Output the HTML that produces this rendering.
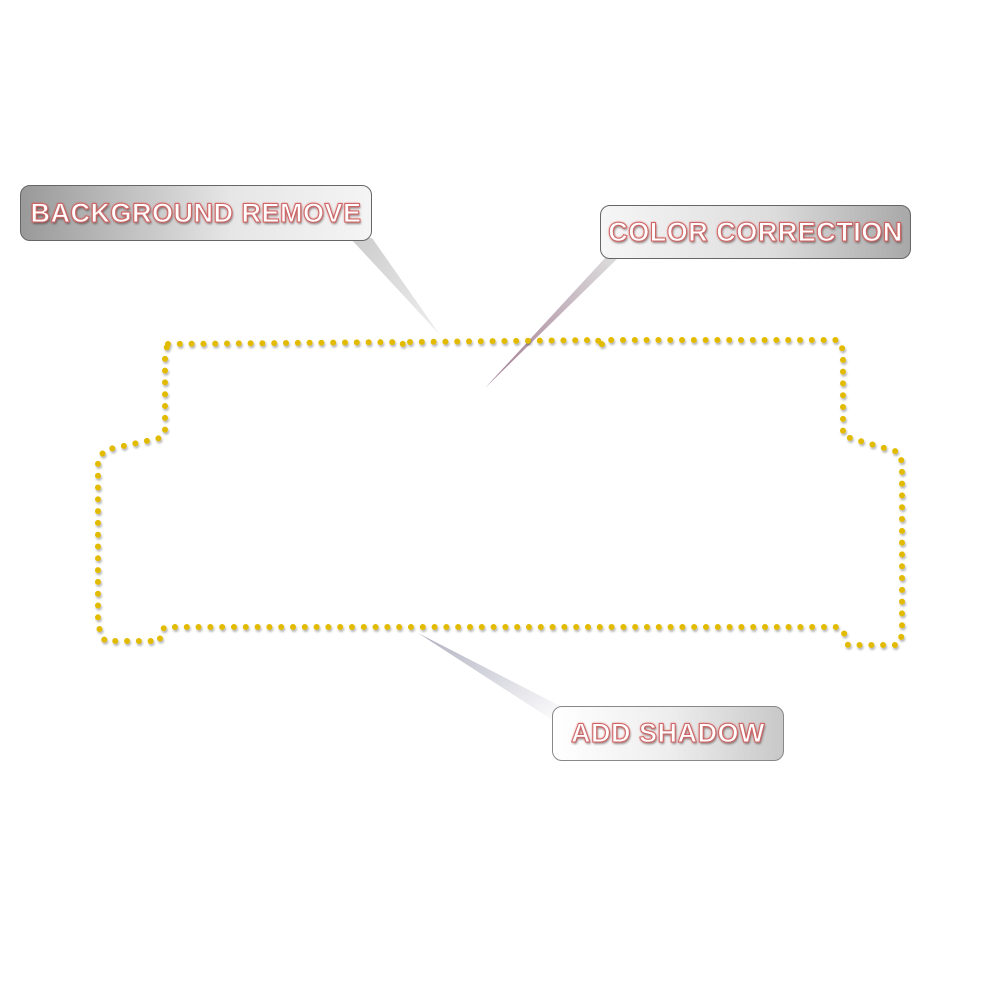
<!DOCTYPE html>
<html><head><meta charset="utf-8"><style>
html,body{margin:0;padding:0;background:#fff;}
body{width:1000px;height:1000px;position:relative;overflow:hidden;}
.box{position:absolute;border:1px solid #666;border-radius:10px;box-sizing:border-box;display:flex;align-items:center;justify-content:center;}
.t{font-family:"Liberation Sans",sans-serif;font-weight:bold;font-size:27px;color:#fff;letter-spacing:0.5px;
-webkit-text-stroke:1px #c66;text-shadow:0 0 2px #e33,1px 2px 2px rgba(0,0,0,.4);white-space:nowrap;}
</style></head><body>
<svg width="1000" height="1000" style="position:absolute;left:0;top:0">
<defs>
<linearGradient id="p1" x1="0" y1="0" x2="1" y2="1"><stop offset="0" stop-color="#ccc"/><stop offset="1" stop-color="#eee"/></linearGradient>
<linearGradient id="p2" x1="1" y1="0" x2="0" y2="1"><stop offset="0" stop-color="#ddd"/><stop offset="1" stop-color="#a07890"/></linearGradient>
<linearGradient id="p3" x1="0" y1="0" x2="1" y2="1"><stop offset="0" stop-color="#b0b0c0"/><stop offset="1" stop-color="#fff"/></linearGradient>
<filter id="sh"><feDropShadow dx="1" dy="2" stdDeviation="1" flood-color="#000" flood-opacity="0.3"/></filter>
</defs>
<polygon points="350,238 372,238 440,335" fill="url(#p1)"/>
<polygon points="605,258 618,258 485,388" fill="url(#p2)"/>
<polygon points="418,633 560,706 560,725" fill="url(#p3)"/>
<path d="M168,344 L402,342 L404,347 L408,342 L598,340 L600,348 L604,340 L838,340 L843,350 L843,435 L850,438 L898,452 L902,462 L902,635 L898,645 L848,645 L843,630 L838,627 L165,627 L160,632 L160,641 L105,641 L100,632 L98,620 L98,460 L105,450 L160,438 L165,432 L165,352 Z"
 fill="none" stroke="#e2bb00" stroke-width="6" stroke-linecap="round" stroke-dasharray="0 11.8" filter="url(#sh)"/>
</svg>
<div class="box" style="left:20px;top:185px;width:352px;height:56px;background:linear-gradient(90deg,#999,#e6e6e6 60%,#f4f4f4);"><span class="t">BACKGROUND REMOVE</span></div>
<div class="box" style="left:600px;top:205px;width:311px;height:54px;background:linear-gradient(90deg,#f6f6f6,#ddd 55%,#a8a8a8);"><span class="t">COLOR CORRECTION</span></div>
<div class="box" style="left:552px;top:706px;width:232px;height:55px;border-color:#888;background:linear-gradient(90deg,#fff,#eee 50%,#c8c8c8);"><span class="t">ADD SHADOW</span></div>
</body></html>
